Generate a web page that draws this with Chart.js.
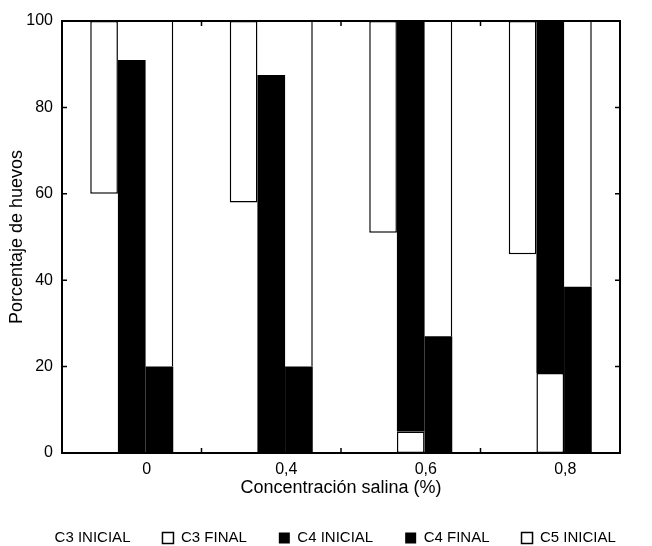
<!DOCTYPE html>
<html>
<head>
<meta charset="utf-8">
<script src="https://cdn.jsdelivr.net/npm/chart.js@4.4.1/dist/chart.umd.min.js"></script>
<style>
  html, body { margin: 0; padding: 0; background: #fff; }
  canvas { display: block; }
</style>
</head>
<body>
<canvas id="grafico" width="652" height="546"></canvas>
<script>
// Concentración salina (%) en el eje x
const concentraciones = ['0', '0,4', '0,6', '0,8'];

// Porcentaje de huevos
const c3Inicial = [60, 58, 51, 46];
const c3Final = [40, 42, 49, 54];
const c5Inicial = [0, 0, 5, 18.5];
const c4Inicial = [91, 87.5, 95, 81.5];
const c4Final = [20, 20, 27, 38.5];
const restoFinal = [80, 80, 73, 61.5];

const ordenLeyenda = ['C3 INICIAL', 'C3 FINAL', 'C4 INICIAL', 'C4 FINAL', 'C5 INICIAL'];
const ticksY = [0, 20, 40, 60, 80, 100];

const fuente = "'Liberation Sans', Arial, Helvetica, sans-serif";
Chart.defaults.font.family = fuente;
Chart.defaults.color = '#000';

// marco del gráfico con marcas hacia dentro
const marco = {
  id: 'marco',
  afterDatasetsDraw(chart) {
    const { ctx, chartArea: a, scales: { x, y } } = chart;
    ctx.save();
    ctx.strokeStyle = '#000';
    ctx.lineWidth = 2;
    ctx.strokeRect(a.left, a.top, a.right - a.left, a.bottom - a.top);
    ctx.lineWidth = 1.5;
    ctx.beginPath();
    y.ticks.forEach(t => {
      if (t.value <= y.min || t.value >= y.max) return;
      const py = y.getPixelForValue(t.value);
      ctx.moveTo(a.left, py); ctx.lineTo(a.left + 5, py);
      ctx.moveTo(a.right, py); ctx.lineTo(a.right - 5, py);
    });
    for (let i = 1; i < x.ticks.length; i++) {
      const px = (x.getPixelForTick(i - 1) + x.getPixelForTick(i)) / 2;
      ctx.moveTo(px, a.bottom); ctx.lineTo(px, a.bottom - 5);
      ctx.moveTo(px, a.top); ctx.lineTo(px, a.top + 5);
    }
    ctx.stroke();
    ctx.restore();
  }
};

const datos = {
  labels: concentraciones,
  datasets: [
    {
      label: 'C3 INICIAL',
      data: c3Inicial,
      stack: 'c3',
      backgroundColor: 'rgba(0,0,0,0)',
      borderWidth: 0,
    },
    {
      label: 'C3 FINAL',
      data: c3Final,
      stack: 'c3',
      backgroundColor: '#fff',
      borderColor: '#000',
      borderWidth: 1.5,
      borderSkipped: false,
    },
    {
      label: 'C5 INICIAL',
      data: c5Inicial,
      stack: 'inicial',
      backgroundColor: '#fff',
      borderColor: '#000',
      borderWidth: 1.5,
      borderSkipped: false,
    },
    {
      label: 'C4 INICIAL',
      data: c4Inicial,
      stack: 'inicial',
      backgroundColor: '#000',
      borderWidth: 0,
    },
    {
      label: 'C4 FINAL',
      data: c4Final,
      stack: 'final',
      backgroundColor: '#000',
      borderWidth: 0,
    },
    {
      label: 'resto',
      data: restoFinal,
      stack: 'final',
      backgroundColor: '#fff',
      borderColor: '#000',
      borderWidth: { top: 0, right: 1.5, bottom: 0, left: 0 },
    },
  ],
};

new Chart(document.getElementById('grafico'), {
  type: 'bar',
  data: datos,
  plugins: [marco],
  options: {
    responsive: false,
    animation: false,
    categoryPercentage: 0.595,
    barPercentage: 1.0,
    layout: { padding: { top: 21, left: 0, right: 0, bottom: 0 } },
    scales: {
      x: {
        offset: true,
        grid: { display: false, drawTicks: false },
        border: { display: false },
        ticks: { font: { size: 16 }, padding: 7, labelOffset: 15, color: '#000' },
        title: {
          display: true,
          text: 'Concentración salina (%)',
          font: { size: 18 },
          color: '#000',
          padding: { top: 0, bottom: 0 },
        },
        afterFit(scale) { scale.height = 45.5; },
      },
      y: {
        stacked: true,
        min: 0,
        max: 100,
        afterBuildTicks(scale) { scale.ticks = ticksY.map(v => ({ value: v })); },
        grid: { display: false, drawTicks: false },
        border: { display: false },
        ticks: { font: { size: 16 }, padding: 9, color: '#000' },
        title: {
          display: true,
          text: 'Porcentaje de huevos',
          font: { size: 18 },
          color: '#000',
          padding: { top: 6, bottom: 0 },
        },
        afterFit(scale) { scale.width = 62; },
      },
      derecha: {
        position: 'right',
        display: true,
        grid: { display: false, drawTicks: false },
        border: { display: false },
        ticks: { display: false },
        afterFit(scale) { scale.width = 32; },
      },
    },
    plugins: {
      title: { display: false },
      tooltip: { enabled: false },
      legend: {
        display: true,
        position: 'bottom',
        maxHeight: 47.5,
        labels: {
          font: { size: 15 },
          color: '#000',
          boxWidth: 11,
          boxHeight: 11,
          padding: 32,
          filter: item => ordenLeyenda.includes(item.text),
          sort: (a, b) => ordenLeyenda.indexOf(a.text) - ordenLeyenda.indexOf(b.text),
        },
      },
    },
  },
});
</script>
</body>
</html>
